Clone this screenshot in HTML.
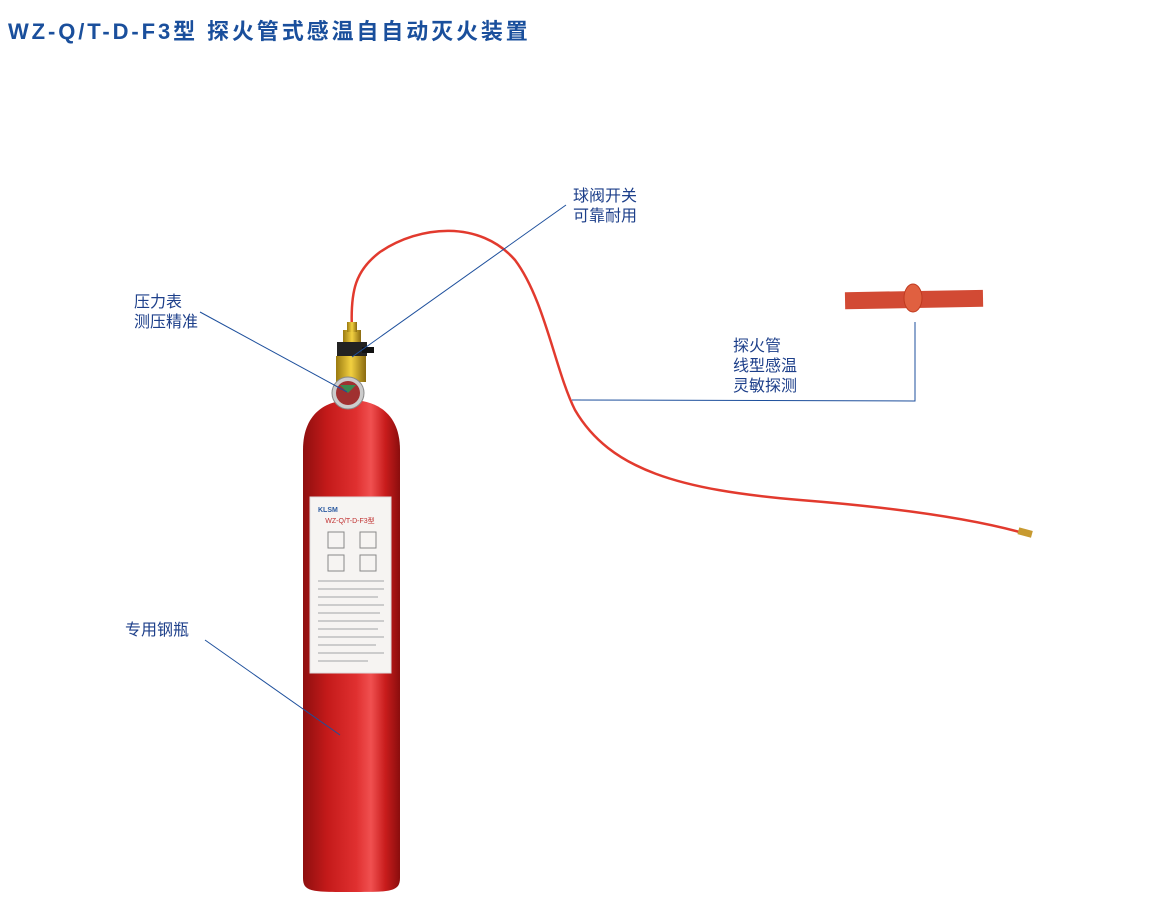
<!DOCTYPE html>
<html><head><meta charset="utf-8"><style>
html,body{margin:0;padding:0;background:#fff;width:1162px;height:913px;overflow:hidden;font-family:"Liberation Sans","Noto Sans CJK SC",sans-serif}
.t{position:absolute;left:8px;top:14px;font-size:22px;font-weight:bold;color:#1a4f9c;letter-spacing:2.9px;white-space:nowrap}
.l{position:absolute;font-size:15px;line-height:20px;color:#1d3f8a}
</style></head><body>
<div class="t">WZ-Q/T-D-F3型 探火管式感温自自动灭火装置</div>
<svg width="1162" height="913" style="position:absolute;left:0;top:0">
<defs>
<linearGradient id="cyl" x1="0" x2="1">
<stop offset="0" stop-color="#8e0f0f"/><stop offset="0.25" stop-color="#c41a1a"/><stop offset="0.55" stop-color="#e03030"/><stop offset="0.7" stop-color="#f05050"/><stop offset="0.85" stop-color="#c81c1c"/><stop offset="1" stop-color="#8a0d0d"/>
</linearGradient>
<linearGradient id="br" x1="0" x2="1"><stop offset="0" stop-color="#9a7a10"/><stop offset="0.5" stop-color="#f2d040"/><stop offset="1" stop-color="#8a6a10"/></linearGradient>
</defs>
<path d="M352,330 C350,290 356,270 380,252 C420,225 480,220 515,260 C545,300 555,370 575,410 C610,470 680,490 800,500 C900,508 980,520 1030,535" fill="none" stroke="#e23a2e" stroke-width="2.5"/>
<rect x="1018" y="529" width="14" height="7" fill="#c79a30" transform="rotate(15 1025 533)"/>
<path d="M303,450 C303,410 330,400 351,400 C372,400 400,410 400,450 L400,878 C400,892 390,892 351,892 C312,892 303,892 303,878 Z" fill="url(#cyl)"/>
<rect x="310" y="497" width="81" height="176" fill="#f6f4f2" stroke="#ddd"/>
<text x="350" y="523" font-size="7" fill="#c03030" text-anchor="middle" font-family="Liberation Sans">WZ-Q/T-D-F3型</text>
<text x="318" y="512" font-size="7" fill="#2b5aa0" font-weight="bold" font-family="Liberation Sans">KLSM</text>
<g fill="#ccc"><rect x="318" y="580" width="66" height="2"/><rect x="318" y="588" width="66" height="2"/><rect x="318" y="596" width="60" height="2"/><rect x="318" y="604" width="66" height="2"/><rect x="318" y="612" width="62" height="2"/><rect x="318" y="620" width="66" height="2"/><rect x="318" y="628" width="60" height="2"/><rect x="318" y="636" width="66" height="2"/><rect x="318" y="644" width="58" height="2"/><rect x="318" y="652" width="66" height="2"/><rect x="318" y="660" width="50" height="2"/></g>
<g fill="none" stroke="#888"><rect x="328" y="532" width="16" height="16"/><rect x="360" y="532" width="16" height="16"/><rect x="328" y="555" width="16" height="16"/><rect x="360" y="555" width="16" height="16"/></g>
<rect x="343" y="330" width="18" height="12" fill="url(#br)"/>
<rect x="347" y="322" width="10" height="10" fill="url(#br)"/>
<rect x="337" y="342" width="30" height="14" fill="#222"/>
<rect x="362" y="347" width="12" height="6" fill="#111"/>
<rect x="336" y="356" width="30" height="26" fill="url(#br)"/>
<circle cx="348" cy="393" r="16" fill="#ccc" stroke="#888"/>
<circle cx="348" cy="393" r="12" fill="#a03030"/>
<path d="M340,385 L356,385 L348,393Z" fill="#3a8a50"/>
</svg>
<svg width="1162" height="913" style="position:absolute;left:0;top:0">
<rect x="845" y="291" width="138" height="17" fill="#d24a34" transform="rotate(-1 915 298)"/>
<ellipse cx="913" cy="298" rx="9" ry="14" fill="#e06040" stroke="#c03a20"/>
<g stroke="#1d4f9c" stroke-width="1" fill="none">
<line x1="200" y1="312" x2="347" y2="392"/>
<line x1="566" y1="205" x2="352" y2="357"/>
<line x1="205" y1="640" x2="340" y2="735"/>
<polyline points="572,400 915,401 915,322"/>
</g>
</svg>
<div class="l" style="left:134px;top:293px;font-size:16px">压力表<br>测压精准</div>
<div class="l" style="left:573px;top:187px;font-size:16px">球阀开关<br>可靠耐用</div>
<div class="l" style="left:733px;top:337px;font-size:16px">探火管<br>线型感温<br>灵敏探测</div>
<div class="l" style="left:125px;top:621px;font-size:16px">专用钢瓶</div>
</body></html>
